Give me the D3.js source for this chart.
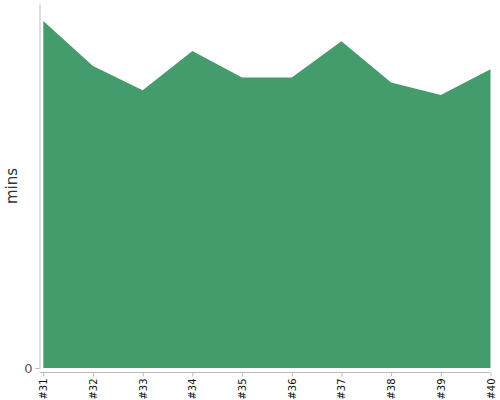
<!DOCTYPE html>
<html>
<head>
<meta charset="utf-8">
<script src="https://d3js.org/d3.v7.min.js"></script>
<style>
  body { margin: 0; background: #fff; }
  svg { display: block; }
  text { font-family: "DejaVu Sans", Verdana, sans-serif; }
</style>
</head>
<body>
<svg id="chart"></svg>
<script>
// data
var builds = ["#31", "#32", "#33", "#34", "#35", "#36", "#37", "#38", "#39", "#40"];
var mins = [95.3, 83.0, 76.3, 87.1, 79.8, 79.8, 89.8, 78.4, 75.0, 82.1];
var yTicks = [0];

var width = 500, height = 400;
var svg = d3.select("#chart").attr("width", width).attr("height", height);

var x = d3.scalePoint().domain(builds).range([43.3, 490.5]);
var y = d3.scaleLinear().domain([0, 100]).range([368, 4]);

// area
var area = d3.area()
    .x(function(d, i){ return x(builds[i]); })
    .y0(y(0))
    .y1(function(d){ return y(d); });

svg.append("path")
    .datum(mins)
    .attr("d", area)
    .attr("fill", "#449c6c");

// y axis, a bit off to the left
var yAxis = svg.append("g")
    .attr("transform", "translate(39.5,0)")
    .call(d3.axisLeft(y).tickValues(yTicks).tickSize(4).tickSizeOuter(0).tickFormat(d3.format("d")));
yAxis.attr("font-family", null).attr("font-size", null);
yAxis.select(".domain").attr("stroke", "#bbb");
yAxis.selectAll(".tick line").attr("stroke", "#bbb");
yAxis.selectAll(".tick text")
    .attr("fill", "#555")
    .attr("x", -7)
    .attr("font-size", 13);

// x axis, a bit below
var xAxis = svg.append("g")
    .attr("transform", "translate(0,372.5)")
    .call(d3.axisBottom(x).tickSize(4).tickSizeOuter(0));
xAxis.attr("font-family", null).attr("font-size", null);
xAxis.select(".domain").attr("stroke", "#bbb").attr("d", "M39.5,0H490.5");
xAxis.selectAll(".tick line").attr("stroke", "#bbb");
xAxis.selectAll(".tick text")
    .attr("fill", "#111")
    .attr("font-size", 10)
    .attr("transform", "rotate(-90)")
    .attr("text-anchor", "end")
    .attr("x", -6)
    .attr("y", 0)
    .attr("dy", "0.35em");

// y label
svg.append("text")
    .attr("transform", "translate(17,186) rotate(-90)")
    .attr("text-anchor", "middle")
    .attr("fill", "#333")
    .attr("font-size", 15)
    .text("mins");
</script>
</body>
</html>
